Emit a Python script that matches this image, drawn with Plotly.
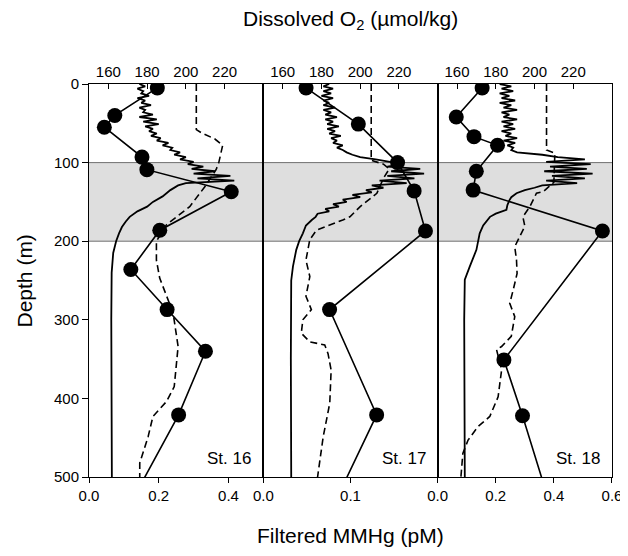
import plotly.graph_objects as go

# ---------------- data ----------------
# Filtered MMHg (pM), bottom axes
mm16_depth = [5, 40, 55, 93, 109, 137, 186, 236, 287, 340, 421, 550]
mm16_val = [0.196, 0.074, 0.044, 0.152, 0.166, 0.408, 0.203, 0.120, 0.224, 0.334, 0.257, 0.099]
mm17_depth = [5, 51, 100, 136, 187, 287, 421, 550]
mm17_val = [0.049, 0.109, 0.154, 0.173, 0.186, 0.076, 0.130, 0.0745]
mm18_depth = [5, 42, 67, 78, 111, 135, 187, 351, 422, 550]
mm18_val = [0.153, 0.064, 0.125, 0.206, 0.133, 0.122, 0.567, 0.228, 0.292, 0.399]

# Dissolved O2 (umol/kg), top axes, dashed
o2_16_depth = [0, 58, 62, 70, 78, 90, 100, 109, 131, 156, 179, 200, 224, 247, 270, 291, 334, 385, 404, 423, 449, 482, 500]
o2_16_val = [205.4, 205.4, 208, 215, 219, 218, 217, 215.6, 209.7, 202, 190, 184.8, 184.8, 186.5, 190, 193.4, 196, 194, 190, 183, 180.5, 176.2, 176.2]
o2_17_depth = [0, 97, 102, 108, 120, 139, 156, 169, 173, 186, 198, 224, 245, 270, 287, 300, 317, 328, 332, 343, 364, 406, 449, 491, 500]
o2_17_val = [205.7, 205.7, 212, 215, 212, 208.6, 200, 194.7, 191, 177.4, 174, 172, 174, 172, 174.8, 170.4, 169.6, 174, 181.7, 183.4, 185, 184.3, 180.9, 178.3, 178]
o2_18_depth = [0, 84, 88, 125, 137, 139, 156, 169, 181, 207, 224, 241, 262, 279, 296, 321, 334, 338, 364, 398, 423, 436, 453, 470, 491, 500]
o2_18_val = [206.2, 206.2, 210.5, 210, 204.5, 201, 197.6, 194, 195, 189.8, 190.7, 191, 189, 187.2, 189.8, 188, 183, 180.4, 183, 181.2, 176.9, 170.8, 165.7, 163, 162.3, 162]

# High-resolution solid profile (read on the top-axis scale)
pr16_depth = [0, 3, 6, 9, 12, 15, 18, 21, 24, 27, 30, 33, 36, 39, 42, 45, 48, 51, 54, 57,
              60, 63, 66, 69, 72, 75, 78, 81, 84, 87, 90, 93, 96, 99, 102, 105, 108, 111, 114, 117,
              120, 123, 126, 129, 135, 143, 150, 156, 162, 169, 175, 182, 190, 200, 215, 240, 300, 400, 500]
pr16_val = [176, 179, 175, 178, 177, 181, 175, 179, 177, 182, 176, 179, 178, 183, 176, 185, 178, 186, 179, 183,
            181, 185, 182, 187, 185, 191, 188, 193, 192, 197, 194, 200, 197, 204, 201, 209, 203, 215, 204, 223,
            206, 225, 200, 196, 192, 188, 183, 180, 175, 171, 169, 167, 165.5, 164, 162.5, 161.7, 161.5, 161.8, 161.8]
pr17_depth = [0, 3, 6, 9, 12, 15, 18, 21, 24, 27, 30, 33, 36, 39, 42, 45, 48, 51, 54, 57,
              60, 63, 66, 69, 72, 75, 78, 81, 84, 87, 90, 93, 96, 99, 102, 105, 108, 111, 114, 117,
              120, 123, 126, 129, 132, 135, 138, 141, 144, 147, 150, 153, 156, 159, 162, 165,
              169, 173, 180, 190, 200, 211, 232, 250, 350, 500]
pr17_val = [184, 181, 186, 181, 185, 180, 186, 181, 184, 181, 187, 181, 185, 182, 188, 182, 186, 183, 189, 183,
            187, 184, 190, 185, 188, 186, 191, 188, 191, 193, 196, 200, 208, 216, 222, 214, 231, 216, 233, 214,
            228, 210, 224, 206, 212, 203, 206, 196, 200, 191, 193, 186, 189, 182, 184, 178,
            177, 175, 172, 170.4, 168.5, 167, 165.3, 164.4, 164.2, 164.4]
pr18_depth = [0, 3, 6, 9, 12, 15, 18, 21, 24, 27, 30, 33, 36, 39, 42, 45, 48, 51, 54, 57,
              60, 63, 66, 69, 72, 75, 78, 81, 84, 87, 90, 93, 96, 99, 102, 105, 108, 111, 114, 117,
              120, 123, 126, 129, 132, 135, 139, 144, 148, 154, 160, 165, 169, 180, 190, 211, 232, 249, 300, 400, 500]
pr18_val = [182, 188, 183, 189, 182, 187, 183, 190, 182, 188, 184, 191, 183, 187, 184, 191, 183, 189, 184, 190,
            183, 188, 185, 191, 184, 190, 186, 189, 188, 191, 204, 212, 226, 206, 229, 208, 227, 205, 230, 209,
            226, 206, 222, 204, 200, 195, 190.7, 188, 187, 186, 185.5, 180, 177, 173.5, 171.7, 170, 166.6, 164, 163.7, 164, 164]

stations = ["St. 16", "St. 17", "St. 18"]
bottom_ranges = [[0, 0.5], [0, 0.2], [0, 0.6]]
bottom_ticks = [[0, 0.2, 0.4], [0, 0.1], [0, 0.2, 0.4, 0.6]]
top_ticks = [160, 180, 200, 220]
depth_ticks = [0, 100, 200, 300, 400, 500]

# ---------------- figure ----------------
fig = go.Figure()

panels = [
    (mm16_depth, mm16_val, o2_16_depth, o2_16_val, pr16_depth, pr16_val),
    (mm17_depth, mm17_val, o2_17_depth, o2_17_val, pr17_depth, pr17_val),
    (mm18_depth, mm18_val, o2_18_depth, o2_18_val, pr18_depth, pr18_val),
]

for i, (md, mv, od, ov, pd_, pv) in enumerate(panels):
    xb = "x" if i == 0 else f"x{i+1}"
    yb = "y" if i == 0 else f"y{i+1}"
    xt = f"x{i+4}"
    fig.add_trace(go.Scatter(x=pv, y=pd_, xaxis=xt, yaxis=yb, mode="lines",
                             line=dict(color="black", width=1.8), showlegend=False))
    fig.add_trace(go.Scatter(x=ov, y=od, xaxis=xt, yaxis=yb, mode="lines",
                             line=dict(color="black", width=1.6, dash="7px,4px"), showlegend=False))
    fig.add_trace(go.Scatter(x=mv, y=md, xaxis=xb, yaxis=yb, mode="lines+markers",
                             line=dict(color="black", width=1.6),
                             marker=dict(color="black", size=15), showlegend=False))

font = dict(family="Liberation Sans, Arial, sans-serif", size=15, color="black")
domains = [[0, 1/3], [1/3, 2/3], [2/3, 1]]

# page body has an 8px default margin, so the margins are shifted by 8px
layout = dict(
    width=628, height=556,
    margin=dict(l=81, r=24, t=76, b=87),
    paper_bgcolor="white", plot_bgcolor="white",
    font=font,
    showlegend=False,
)

for i in range(3):
    xb = "xaxis" if i == 0 else f"xaxis{i+1}"
    yb = "yaxis" if i == 0 else f"yaxis{i+1}"
    xt = f"xaxis{i+4}"
    yname = "y" if i == 0 else f"y{i+1}"
    xname = "x" if i == 0 else f"x{i+1}"
    layout[xb] = dict(domain=domains[i], range=bottom_ranges[i], anchor=yname,
                      tickvals=bottom_ticks[i], ticktext=[f"{v:.1f}" for v in bottom_ticks[i]],
                      ticks="outside", ticklen=5, tickcolor="black", showline=True,
                      linecolor="black", linewidth=1, showgrid=False, zeroline=False)
    layout[xt] = dict(overlaying=xname, anchor=yname, side="top", range=[150, 240],
                      tickvals=top_ticks, ticks="inside", ticklen=5, tickcolor="black",
                      showline=True, linecolor="black", linewidth=1, showgrid=False, zeroline=False)
    ydict = dict(domain=[0, 1], range=[500, 0], anchor=xname, showline=True, mirror=True,
                 linecolor="black", linewidth=1, showgrid=False, zeroline=False)
    if i == 0:
        ydict.update(tickvals=depth_ticks, ticks="outside", ticklen=6, tickcolor="black")
    else:
        ydict.update(matches="y", showticklabels=False, ticks="")
    layout[yb] = ydict

fig.update_layout(**layout)

# shaded band 100-200 m
fig.add_shape(type="rect", xref="paper", yref="y", x0=0, x1=1, y0=100, y1=200,
              fillcolor="#dedede", line=dict(width=0), layer="below")
for d in (100, 200):
    fig.add_shape(type="line", xref="paper", yref="y", x0=0, x1=1, y0=d, y1=d,
                  line=dict(color="#707070", width=1), layer="below")

# station labels
for i, s in enumerate(stations):
    xname = "x" if i == 0 else f"x{i+1}"
    yname = "y" if i == 0 else f"y{i+1}"
    fig.add_annotation(text=s, xref=f"{xname} domain", yref=f"{yname} domain", x=1, y=0.048,
                       xanchor="right", yanchor="middle", xshift=-10, showarrow=False,
                       font=dict(family="Liberation Sans, Arial, sans-serif", size=17, color="black"))

title_font = dict(family="Liberation Sans, Arial, sans-serif", size=21, color="black")
fig.add_annotation(text="Dissolved O<sub>2</sub> (µmol/kg)", xref="paper", yref="paper",
                   x=0.5, y=1.163, xanchor="center", yanchor="middle", showarrow=False, font=title_font)
fig.add_annotation(text="Filtered MMHg (pM)", xref="paper", yref="paper",
                   x=0.5, y=-0.1476, xanchor="center", yanchor="middle", showarrow=False, font=title_font)
fig.add_annotation(text="Depth (m)", xref="paper", yref="paper", textangle=-90,
                   x=-0.1224, y=0.5, xanchor="center", yanchor="middle", showarrow=False, font=title_font)

fig.write_html("out.html")
